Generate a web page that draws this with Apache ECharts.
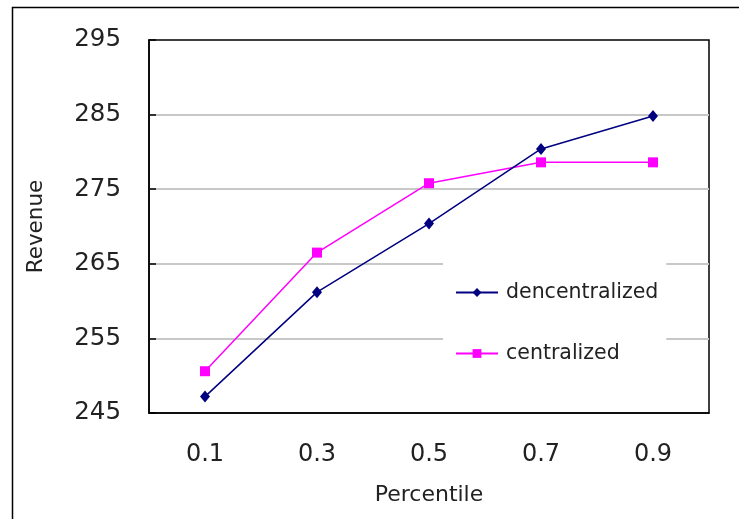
<!DOCTYPE html>
<html>
<head>
<meta charset="utf-8">
<script src="https://cdn.jsdelivr.net/npm/echarts@6/dist/echarts.min.js"></script>
<style>
  html, body { margin: 0; padding: 0; background: #fff; }
  #chart { width: 739px; height: 519px; }
</style>
</head>
<body>
<div id="chart"></div>
<script>
// Revenue by percentile, decentralized vs. centralized
const percentiles = ['0.1', '0.3', '0.5', '0.7', '0.9'];
const decentralized = [247.2, 261.2, 270.4, 280.4, 284.8];
const centralized = [250.6, 266.5, 275.8, 278.6, 278.6];
const yMin = 245, yMax = 295, yStep = 10;

const FONT = '"DejaVu Sans", sans-serif';
const chart = echarts.init(document.getElementById('chart'));

chart.setOption({
  animation: false,
  backgroundColor: '#fff',
  graphic: [{
    type: 'rect',
    shape: { x: 12.5, y: 7.5, width: 800, height: 600 },
    style: { fill: 'none', stroke: '#000', lineWidth: 1.5 },
    silent: true
  }],
  grid: {
    left: 149, right: 30, top: 40, bottom: 106,
    show: true, borderColor: '#000', borderWidth: 1.5, backgroundColor: 'transparent'
  },
  legend: {
    orient: 'vertical',
    left: 443, top: 258,
    padding: [24, 8, 24, 12],
    itemGap: 40,
    itemWidth: 42, itemHeight: 11,
    backgroundColor: '#fff',
    textStyle: { fontFamily: FONT, fontSize: 20.5, color: '#222', padding: [0, 0, 0, 3] },
    data: ['dencentralized', 'centralized']
  },
  xAxis: {
    type: 'category',
    data: percentiles,
    boundaryGap: true,
    name: 'Percentile',
    nameLocation: 'middle',
    nameGap: 71,
    nameTextStyle: { fontFamily: FONT, fontSize: 22, color: '#222' },
    axisLine: { lineStyle: { color: '#000', width: 1.5 } },
    axisTick: { inside: true, length: 7, alignWithLabel: false, lineStyle: { color: '#000', width: 1.5 } },
    axisLabel: { margin: 30, fontFamily: FONT, fontSize: 24, color: '#222' },
    splitLine: { show: false }
  },
  yAxis: {
    type: 'value',
    min: yMin, max: yMax, interval: yStep,
    name: 'Revenue',
    nameLocation: 'middle',
    nameGap: 102,
    nameTextStyle: { fontFamily: FONT, fontSize: 21.5, color: '#222' },
    axisLine: { show: true, lineStyle: { color: '#000', width: 1.5 } },
    axisTick: { show: true, inside: true, length: 7, lineStyle: { color: '#000', width: 1.5 } },
    axisLabel: { margin: 28, fontFamily: FONT, fontSize: 24.5, color: '#222' },
    splitLine: { show: true, showMinLine: false, showMaxLine: false, lineStyle: { color: '#c8c8c8', width: 2 } }
  },
  series: [
    {
      name: 'dencentralized',
      type: 'line',
      data: decentralized,
      symbol: 'diamond',
      symbolSize: [10, 12],
      itemStyle: { color: '#000080' },
      lineStyle: { color: '#000080', width: 1.5 },
      z: 3
    },
    {
      name: 'centralized',
      type: 'line',
      data: centralized,
      symbol: 'rect',
      symbolSize: 10,
      itemStyle: { color: '#ff00ff' },
      lineStyle: { color: '#ff00ff', width: 1.5 },
      z: 2
    }
  ]
});
</script>
</body>
</html>
